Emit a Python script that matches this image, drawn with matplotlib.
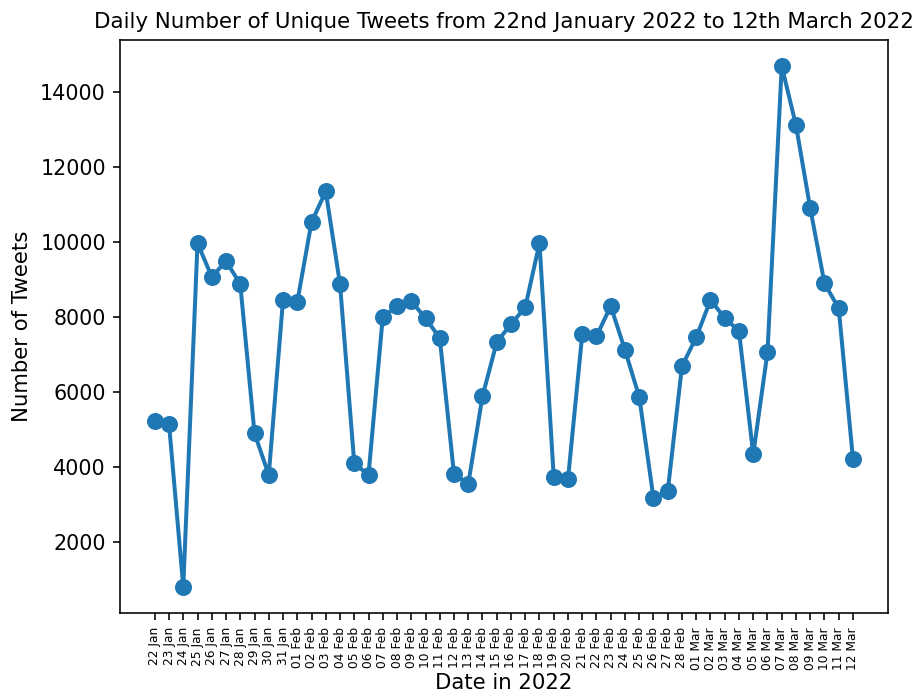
import matplotlib
matplotlib.use("Agg")
import matplotlib.pyplot as plt

dates = (
    [f"{d:02d} Jan" for d in range(22, 32)]
    + [f"{d:02d} Feb" for d in range(1, 29)]
    + [f"{d:02d} Mar" for d in range(1, 13)]
)

tweets = [
    5230, 5150, 800, 9970, 9070, 9490, 8880, 4900, 3790, 8450,
    8400, 10530, 11350, 8880, 4100, 3790, 8000, 8290, 8420, 7970,
    7440, 3810, 3550, 5890, 7330, 7810, 8260, 9970, 3730, 3680,
    7540, 7490, 8290, 7120, 5870, 3170, 3360, 6690, 7460, 8450,
    7980, 7620, 4340, 7060, 14690, 13110, 10900, 8900, 8230, 4210,
]

fig = plt.figure(figsize=(922 / 144, 696 / 144), dpi=144)
ax = fig.add_axes([0.130, 0.119, 0.833, 0.8235])

x = list(range(len(dates)))
ax.plot(x, tweets, marker="o", markersize=7.5, linewidth=2, color="#1f77b4")

ax.set_xticks(x)
ax.set_xticklabels(dates, rotation=90, fontsize=6.1)
ax.tick_params(axis="y", labelsize=10.3)
ax.set_title("Daily Number of Unique Tweets from 22nd January 2022 to 12th March 2022",
             fontsize=10.7)
ax.set_xlabel("Date in 2022", fontsize=10.6, labelpad=1.5)
ax.set_ylabel("Number of Tweets", fontsize=10.6)

fig.savefig("out.png", dpi=144)
